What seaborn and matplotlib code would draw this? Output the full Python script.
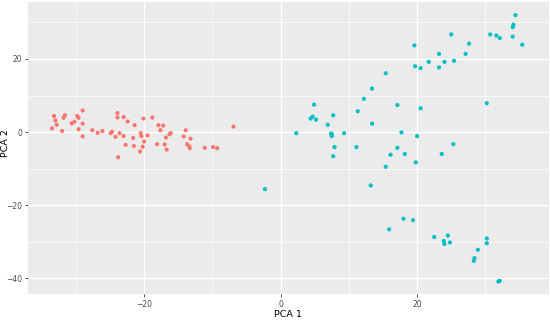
import seaborn as sns
import matplotlib.pyplot as plt
import pandas as pd
from matplotlib.ticker import MultipleLocator

# group 1 (red cluster)
pc1_a = [-33.2, -33.0, -32.8, -33.5, -32.0, -31.8, -31.6, -30.6, -30.2, -29.8,
         -29.6, -29.0, -29.0, -29.6, -29.0, -27.6, -26.8, -26.1, -24.9, -24.7,
         -24.2, -23.9, -23.9, -23.0, -22.4, -23.6, -23.0, -22.7, -21.6, -21.4,
         -21.5, -20.1, -20.5, -20.4, -20.0, -20.2, -20.6, -19.5, -18.8, -17.9,
         -17.2, -17.6, -16.3, -16.1, -16.8, -18.1, -17.0, -16.7, -13.9, -14.2,
         -13.2, -13.7, -13.4, -13.3, -11.1, -9.9, -9.3, -6.9, -23.8]
pc2_a = [4.4, 3.2, 2.0, 1.0, 0.3, 3.9, 4.6, 2.4, 2.8, 4.4,
         3.9, 5.9, 2.3, 0.8, -1.2, 0.5, -0.2, 0.3, -0.3, 0.1,
         -1.3, 5.2, 4.0, 4.1, 2.9, -0.3, -1.1, -3.5, -1.6, 1.9,
         -3.8, 3.7, -0.3, -1.1, -2.6, -4.0, -5.3, -0.9, 4.0, 1.9,
         1.8, 0.5, -0.6, -0.3, -1.5, -3.3, -3.4, -4.8, 0.5, -1.2,
         -1.8, -3.3, -3.9, -4.4, -4.3, -4.1, -4.4, 1.5, -6.9]

# group 2 (teal cluster)
pc1_b = [2.3, 4.9, 4.4, 4.7, 5.2, 6.9, 7.7, 7.4, 7.5, 7.5,
         9.3, 7.9, 7.7, 11.1, 11.3, 12.2, 13.4, 13.4, 15.4, 17.1,
         17.7, 17.1, 16.1, 18.2, 19.6, 19.7, 20.5, 20.5, 20.0, 21.7,
         23.2, 23.2, 24.0, 25.0, 25.4, 27.1, 27.6, 25.3, 23.6, 30.2,
         30.7, 31.6, 32.1, 34.0, 34.0, 34.1, 34.4, 35.4,
         19.8, 15.4, 13.2, 18.0, 19.4, 15.9, 22.5, 24.5, 23.9, 24.0,
         24.8, 28.9, 28.4, 28.3, 30.2, 30.2, 31.9, 32.1, -2.3]
pc2_b = [-0.3, 7.5, 3.7, 4.2, 3.4, 2.0, 4.6, -0.4, -0.6, -1.1,
         -0.3, -4.1, -6.6, -4.1, 5.7, 9.1, 11.9, 2.3, 16.1, 7.4,
         -0.1, -4.3, -6.2, -6.0, 23.7, 18.0, 17.5, 6.5, -1.1, 19.2,
         21.4, 17.7, 19.2, 26.7, 19.5, 21.4, 24.2, -3.3, -6.0, 7.9,
         26.7, 26.4, 25.7, 26.1, 28.7, 29.4, 32.0, 23.9,
         -8.3, -9.5, -14.6, -23.7, -24.1, -26.6, -28.7, -28.3, -29.8, -30.6,
         -30.2, -32.2, -34.5, -35.2, -29.1, -30.4, -40.9, -40.7, -15.6]

df = pd.DataFrame({
    'PC1': pc1_a + pc1_b,
    'PC2': pc2_a + pc2_b,
    'group': ['A'] * len(pc1_a) + ['B'] * len(pc1_b),
})

fig = plt.figure(figsize=(5.5, 3.21), dpi=100)
ax = fig.add_axes([0.051, 0.084, 0.947, 0.91])
ax.set_facecolor('#EBEBEB')
for s in ax.spines.values():
    s.set_visible(False)

sns.scatterplot(data=df, x='PC1', y='PC2', hue='group',
                palette=['#F8766D', '#00BFC4'], s=9, linewidth=0,
                legend=False, ax=ax, zorder=3)

ax.set_xlim(-37.0, 39.3)
ax.set_ylim(-44.3, 35.6)
ax.xaxis.set_major_locator(MultipleLocator(20))
ax.yaxis.set_major_locator(MultipleLocator(20))
ax.xaxis.set_minor_locator(MultipleLocator(10))
ax.yaxis.set_minor_locator(MultipleLocator(10))
ax.grid(which='major', color='white', linewidth=1.0, zorder=0)
ax.grid(which='minor', color='white', linewidth=0.5, zorder=0)
ax.set_axisbelow(True)
ax.tick_params(which='major', length=2.2, width=0.6, color='#333333',
               labelsize=5.5, labelcolor='#4D4D4D', pad=2)
ax.tick_params(which='minor', length=0)

ax.set_xlabel('PCA 1', fontsize=6.8, color='black')
ax.set_ylabel('PCA 2', fontsize=6.8, color='black')
ax.xaxis.set_label_coords(0.524, 0.019, transform=fig.transFigure)
ax.yaxis.set_label_coords(0.010, 0.555, transform=fig.transFigure)
ax.xaxis.label.set_va('center')
ax.yaxis.label.set_va('center')

fig.savefig('out.png', dpi=100)
